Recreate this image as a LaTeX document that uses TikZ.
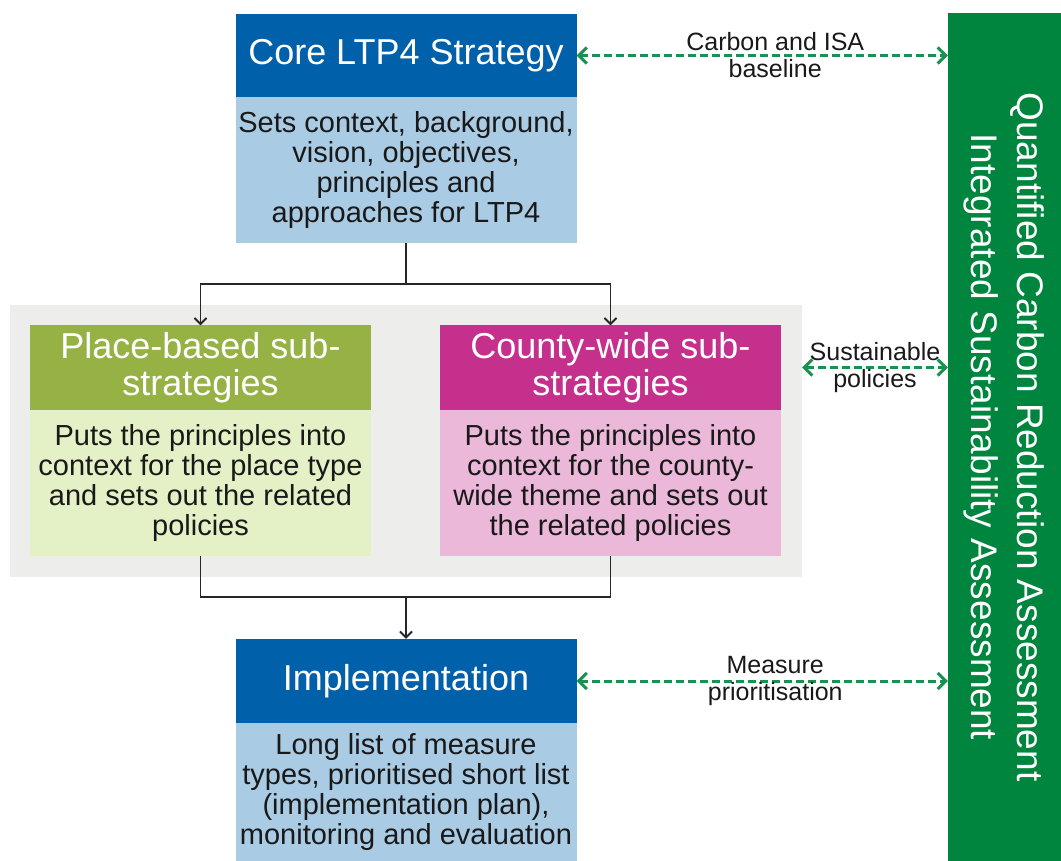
\documentclass[tikz,border=0pt]{standalone}
\usepackage{fontspec}
\setmainfont{Liberation Sans}
\usetikzlibrary{arrows.meta}

\definecolor{ltpblue}{RGB}{0,96,170}
\definecolor{ltplight}{RGB}{170,203,228}
\definecolor{placegreen}{RGB}{150,177,68}
\definecolor{placelight}{RGB}{228,240,198}
\definecolor{countypink}{RGB}{196,48,140}
\definecolor{countylight}{RGB}{235,184,218}
\definecolor{panelgrey}{RGB}{237,237,235}
\definecolor{isagreen}{RGB}{0,133,62}

\begin{document}
\begin{tikzpicture}[x=1pt, y=-1pt,
    head/.style={rectangle, text=white, minimum width=341pt, minimum height=84pt, inner sep=0pt, align=center, font=\fontsize{36}{37}\selectfont},
    body/.style={rectangle, text=black!90, minimum width=341pt, minimum height=146pt, inner sep=0pt, align=center, font=\fontsize{29}{30}\selectfont},
    line/.style={draw, line width=1.9pt, black!85},
    link/.style={draw, {Straight Barb[length=8pt,width=16pt]}-{Straight Barb[length=8pt,width=16pt]}, dash pattern=on 8pt off 4pt, line width=3pt, isagreen!90},
    note/.style={align=center, text=black!90, font=\fontsize{25}{27}\selectfont},
    >={Straight Barb[length=6pt,width=12pt]}
]
    \useasboundingbox (0,0) rectangle (1061,861);

    \node [rectangle, fill=panelgrey, minimum width=792pt, minimum height=272pt] (panel) at (406,441) {};

    \node [head, fill=ltpblue, minimum height=83pt] (corehead) at (406,55.5) {Core LTP4 Strategy};
    \node [body, fill=ltplight] (corebody) at (406,170) {Sets context, background,\\vision, objectives,\\principles and\\approaches for LTP4};

    \node [head, fill=placegreen] (placehead) at (200.5,367.5) {Place-based sub-\\strategies};
    \node [body, fill=placelight] (placebody) at (200.5,483) {Puts the principles into\\context for the place type\\and sets out the related\\policies};

    \node [head, fill=countypink] (countyhead) at (610.5,367.5) {County-wide sub-\\strategies};
    \node [body, fill=countylight] (countybody) at (610.5,483) {Puts the principles into\\context for the county-\\wide theme and sets out\\the related policies};

    \node [head, fill=ltpblue] (implhead) at (406,681) {Implementation};
    \node [body, fill=ltplight, minimum height=138pt] (implbody) at (406,792) {Long list of measure\\types, prioritised short list\\(implementation plan),\\monitoring and evaluation};

    \node [rectangle, fill=isagreen, text=white, minimum width=848pt, minimum height=113pt, rotate=-90, align=center, font=\fontsize{37}{46}\selectfont] (isa) at (1004.5,437) {Quantified Carbon Reduction Assessment\\Integrated Sustainability Assessment};

    \coordinate (split) at (406,284);
    \coordinate (merge) at (406,597);

    \draw [line] (corebody.south) -- (split);
    \draw [line, ->] (split) -| (placehead.north);
    \draw [line, ->] (split) -| (countyhead.north);
    \draw [line] (placebody.south) |- (merge);
    \draw [line] (countybody.south) |- (merge);
    \draw [line, ->] (merge) -- (implhead.north);

    \draw [link] (corehead.east) -- (corehead.east -| isa.south) node [note, midway, xshift=13pt] (lblbaseline) {Carbon and ISA\\baseline};
    \draw [link] (panel.east |- countyhead.east) -- (countyhead.east -| isa.south) node [note, midway] (lblpolicies) {Sustainable\\policies};
    \draw [link] (implhead.east) -- (implhead.east -| isa.south) node [note, midway, xshift=13pt] (lblmeasure) {Measure\\prioritisation};
\end{tikzpicture}
\end{document}
